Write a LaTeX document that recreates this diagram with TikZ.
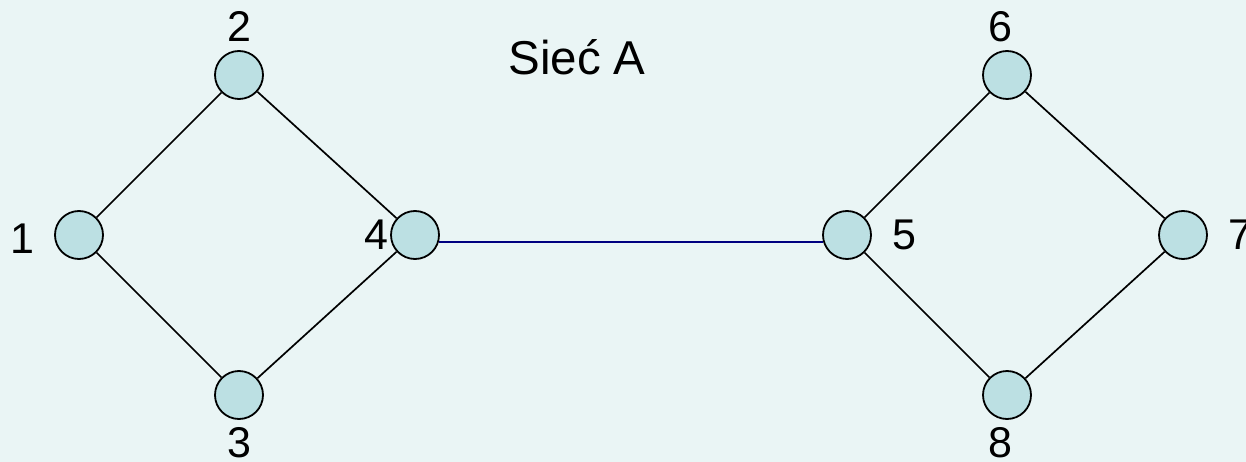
\documentclass[tikz,border=0pt]{standalone}
\usepackage{fontspec}
\setmainfont{Liberation Sans}
\definecolor{bg}{HTML}{EAF5F5}
\definecolor{nodefill}{HTML}{BCE0E3}
\definecolor{navyline}{HTML}{000080}
\begin{document}
\begin{tikzpicture}[x=1pt,y=-1pt,
  vert/.style={circle,draw=black,fill=nodefill,minimum size=48pt,inner sep=0pt,line width=1.8pt},
  lbl/.style={anchor=base,inner sep=0pt,font=\fontsize{43}{50}\selectfont},
  edge/.style={draw=black,line width=1.7pt},
  bridge/.style={draw=navyline,line width=2pt}]
\fill[bg] (0,0) rectangle (1246,462);
\useasboundingbox (0,0) rectangle (1246,462);
\node[vert] (n1) at (79,235) {};
\node[vert] (n2) at (239,75) {};
\node[vert] (n3) at (239,395) {};
\node[vert] (n4) at (415,235) {};
\node[vert] (n5) at (847,235) {};
\node[vert] (n6) at (1007,75) {};
\node[vert] (n7) at (1183,235) {};
\node[vert] (n8) at (1007,395) {};
\draw[edge] (n1) -- (n2);
\draw[edge] (n1) -- (n3);
\draw[edge] (n2) -- (n4);
\draw[edge] (n3) -- (n4);
\draw[edge] (n5) -- (n6);
\draw[edge] (n5) -- (n8);
\draw[edge] (n6) -- (n7);
\draw[edge] (n8) -- (n7);
\draw[bridge] (n4.-17) -- (n5.197);
\node[lbl] (l1) at (22,253) {1};
\node[lbl] (l2) at (239,42) {2};
\node[lbl] (l3) at (239,457) {3};
\node[lbl] (l4) at (376,250) {4};
\node[lbl] (l5) at (904,250) {5};
\node[lbl] (l6) at (1000,42) {6};
\node[lbl] (l7) at (1240,250) {7};
\node[lbl] (l8) at (1000,457) {8};
\node[anchor=base,inner sep=0pt,font=\fontsize{47.5}{54}\selectfont] (title) at (577,75) {Sieć A};
\end{tikzpicture}
\end{document}
